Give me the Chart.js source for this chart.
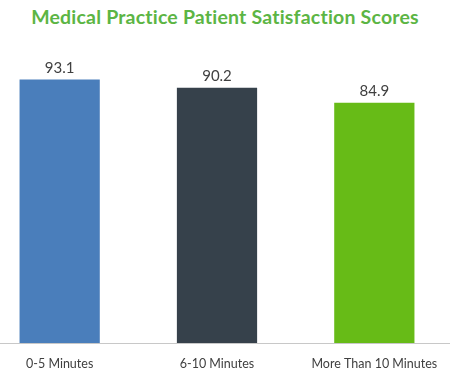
<!DOCTYPE html>
<html>
<head>
<meta charset="utf-8">
<script src="https://cdn.jsdelivr.net/npm/chart.js@4"></script>
<style>
html,body{margin:0;padding:0;background:#fff;overflow:hidden;width:450px;height:379px;position:relative;}
#title{position:absolute;left:0;top:5px;width:450px;text-align:center;font-family:"Lato",sans-serif;font-weight:bold;font-size:19.5px;color:#5cb544;letter-spacing:0.2px;}
#wrap{position:absolute;left:-19px;top:0;width:472px;height:384px;}
</style>
</head>
<body>
<div id="title">Medical Practice Patient Satisfaction Scores</div>
<div id="wrap"><canvas id="c"></canvas></div>
<script>
const categories = ["0-5 Minutes", "6-10 Minutes", "More Than 10 Minutes"];
const scores = [93.1, 90.2, 84.9];
const barColors = ["#4a7ebb", "#36414b", "#67bb17"];

const valueLabels = {
  id: 'valueLabels',
  afterDatasetsDraw(chart) {
    const ctx = chart.ctx;
    const meta = chart.getDatasetMeta(0);
    ctx.save();
    ctx.font = '15px "Lato", sans-serif';
    ctx.fillStyle = '#404040';
    ctx.textAlign = 'center';
    ctx.textBaseline = 'bottom';
    meta.data.forEach((bar, i) => {
      ctx.fillText(scores[i].toFixed(1), bar.x, bar.y - 4);
    });
    ctx.restore();
  }
};

new Chart(document.getElementById('c'), {
  type: 'bar',
  data: {
    labels: categories,
    datasets: [{
      data: scores,
      backgroundColor: barColors,
      barPercentage: 0.51,
      categoryPercentage: 1.0
    }]
  },
  options: {
    responsive: true,
    maintainAspectRatio: false,
    animation: false,
    layout: { padding: { top: 60, bottom: 0, left: 0, right: 0 } },
    plugins: { legend: { display: false }, tooltip: { enabled: false } },
    scales: {
      x: {
        grid: { display: false, drawTicks: false },
        border: { color: '#c8c8c8', width: 1 },
        ticks: { color: '#404040', font: { family: 'Lato', size: 12.5 }, padding: 13 }
      },
      y: {
        display: false,
        min: 0, max: 100
      }
    }
  },
  plugins: [valueLabels]
});
</script>
</body>
</html>
